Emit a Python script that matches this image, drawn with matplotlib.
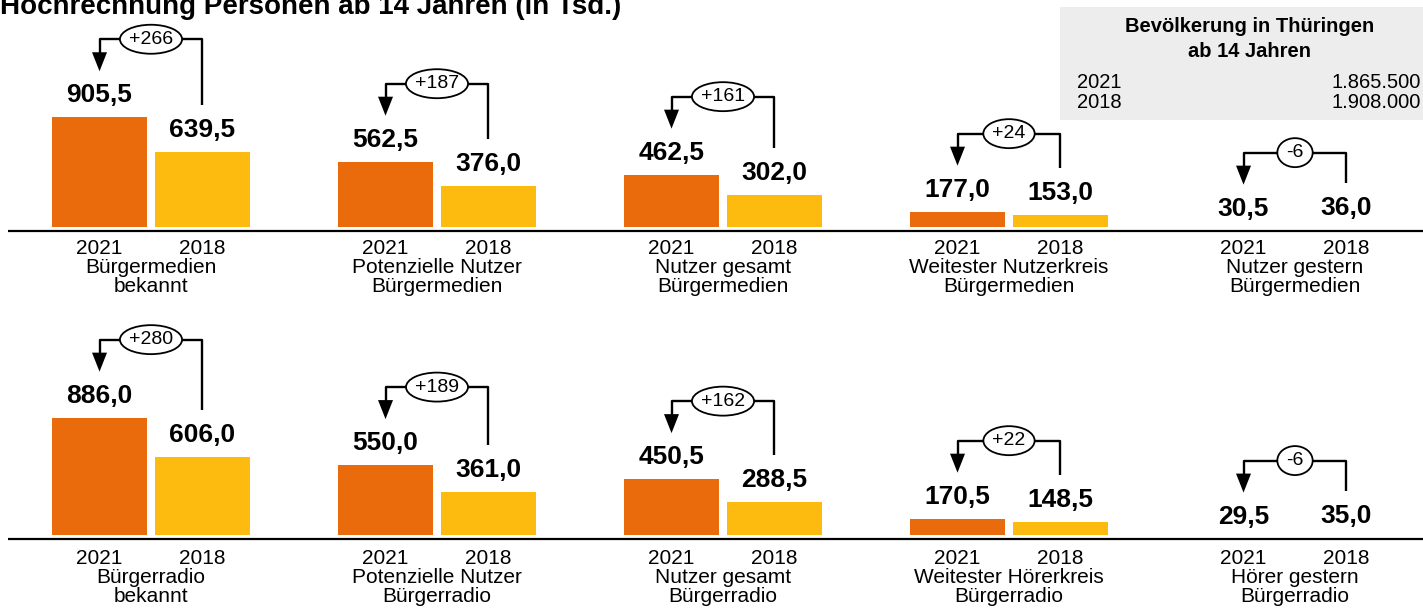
import numpy as np
import matplotlib
matplotlib.use('Agg')
import matplotlib.pyplot as plt
from matplotlib.lines import Line2D
from matplotlib.patches import Polygon, Ellipse, Rectangle

plt.rcParams['font.family'] = ['Liberation Sans', 'DejaVu Sans']

W, H, DPI = 1423, 608, 100

# data (Tsd. Personen ab 14 Jahren)
years = ['2021', '2018']
cats_top = [('Bürgermedien', 'bekannt'),
            ('Potenzielle Nutzer', 'Bürgermedien'),
            ('Nutzer gesamt', 'Bürgermedien'),
            ('Weitester Nutzerkreis', 'Bürgermedien'),
            ('Nutzer gestern', 'Bürgermedien')]
v21_top = [905.5, 562.5, 462.5, 177.0, 30.5]
v18_top = [639.5, 376.0, 302.0, 153.0, 36.0]
diff_top = ['+266', '+187', '+161', '+24', '-6']

cats_bot = [('Bürgerradio', 'bekannt'),
            ('Potenzielle Nutzer', 'Bürgerradio'),
            ('Nutzer gesamt', 'Bürgerradio'),
            ('Weitester Hörerkreis', 'Bürgerradio'),
            ('Hörer gestern', 'Bürgerradio')]
v21_bot = [886.0, 550.0, 450.5, 170.5, 29.5]
v18_bot = [606.0, 361.0, 288.5, 148.5, 35.0]
diff_bot = ['+280', '+189', '+162', '+22', '-6']

pop_years = ['2021', '2018']
pop_values = ['1.865.500', '1.908.000']

C21 = '#EA6B0C'
C18 = '#FDBA0F'

fig = plt.figure(figsize=(W / DPI, H / DPI), dpi=DPI)
inv = fig.transFigure.inverted()


def fpt(x, y):
    # display pixels -> figure fraction
    return inv.transform((x, y))


def fline(xs, ys, lw=1.5):
    pts = [fpt(x, y) for x, y in zip(xs, ys)]
    fig.add_artist(Line2D([p[0] for p in pts], [p[1] for p in pts],
                          transform=fig.transFigure, color='black', lw=lw,
                          solid_capstyle='butt'))


SLOT = 286.0   # px per group
OFF = 0.18
BW = 0.332
AX_LEFT = 8


def draw_row(bottom_px, vmin, scale, cats, v21, v18, diffs, extra):
    axh = 150
    ax = fig.add_axes([AX_LEFT / W, bottom_px / H, (W - AX_LEFT) / W, axh / H])
    ax.set_xlim(-0.5, -0.5 + (W - AX_LEFT) / SLOT)
    ax.set_ylim(vmin, vmin + axh / scale)
    ax.axis('off')
    xs = np.arange(len(cats))
    ax.bar(xs - OFF, v21, BW, color=C21)
    ax.bar(xs + OFF, v18, BW, color=C18)

    # base line
    fline([AX_LEFT, W], [bottom_px - 4.5, bottom_px - 4.5], lw=1.6)

    for i in range(len(cats)):
        for x, v in ((xs[i] - OFF, v21[i]), (xs[i] + OFF, v18[i])):
            ax.annotate(f'{v:.1f}'.replace('.', ','), xy=(x, v), xytext=(0, 15),
                        textcoords='offset pixels', ha='center', va='baseline',
                        fontsize=19, fontweight='bold', annotation_clip=False)
        for x, yr in ((xs[i] - OFF, years[0]), (xs[i] + OFF, years[1])):
            ax.annotate(yr, xy=(x, vmin), xytext=(0, -27 - extra),
                        textcoords='offset pixels', ha='center', va='baseline',
                        fontsize=15, annotation_clip=False)
        ax.annotate(cats[i][0], xy=(xs[i], vmin), xytext=(0, -46 - extra),
                    textcoords='offset pixels', ha='center', va='baseline',
                    fontsize=15, annotation_clip=False)
        ax.annotate(cats[i][1], xy=(xs[i], vmin), xytext=(0, -65 - extra),
                    textcoords='offset pixels', ha='center', va='baseline',
                    fontsize=15, annotation_clip=False)

        # bracket with change label
        x1, y1 = ax.transData.transform((xs[i] - OFF, v21[i]))
        x2, y2 = ax.transData.transform((xs[i] + OFF, v18[i]))
        xc = (x1 + x2) / 2
        top = y1 + 78
        tip = y1 + 46
        fline([x2, x2, x1, x1], [y2 + 47, top, top, tip + 18], lw=1.7)
        fig.add_artist(Polygon([fpt(x1 - 7.5, tip + 19), fpt(x1 + 7.5, tip + 19),
                                fpt(x1, tip)], closed=True, transform=fig.transFigure,
                               color='black', lw=0))
        t = fig.text(*fpt(xc, top), diffs[i], ha='center', va='center',
                     fontsize=14, zorder=5)
        tw = t.get_window_extent(renderer=fig.canvas.get_renderer()).width
        e = Ellipse(fpt(xc, top), (tw + 18) / W, 29 / H, transform=fig.transFigure,
                    facecolor='white', edgecolor='black', lw=1.3, zorder=4)
        fig.add_artist(e)


draw_row(H - 226.7, 61, 0.1296, cats_top, v21_top, v18_top, diff_top, 0)
draw_row(H - 534.7, 57, 0.1412, cats_bot, v21_bot, v18_bot, diff_bot, 2.5)

# title (partly cut at the top edge, as in the source)
fig.text(0, 1 - 13.5 / H, 'Hochrechnung Personen ab 14 Jahren (in Tsd.)',
         ha='left', va='baseline', fontsize=20, fontweight='bold')

# population box
fig.add_artist(Rectangle(fpt(1060, H - 120), (W - 1060) / W, 113 / H,
                         transform=fig.transFigure, facecolor='#EDEDED',
                         edgecolor='none', zorder=0))
fig.text(1250 / W, 1 - 32 / H, 'Bevölkerung in Thüringen', ha='center',
         va='baseline', fontsize=14.5, fontweight='bold')
fig.text(1250 / W, 1 - 57 / H, 'ab 14 Jahren', ha='center',
         va='baseline', fontsize=14.5, fontweight='bold')
for k, (yr, val) in enumerate(zip(pop_years, pop_values)):
    yb = 1 - (88 + 20 * k) / H
    fig.text(1077 / W, yb, yr, ha='left', va='baseline', fontsize=14.5)
    fig.text(1421 / W, yb, val, ha='right', va='baseline', fontsize=14.5)

fig.savefig('out.png', dpi=DPI)
